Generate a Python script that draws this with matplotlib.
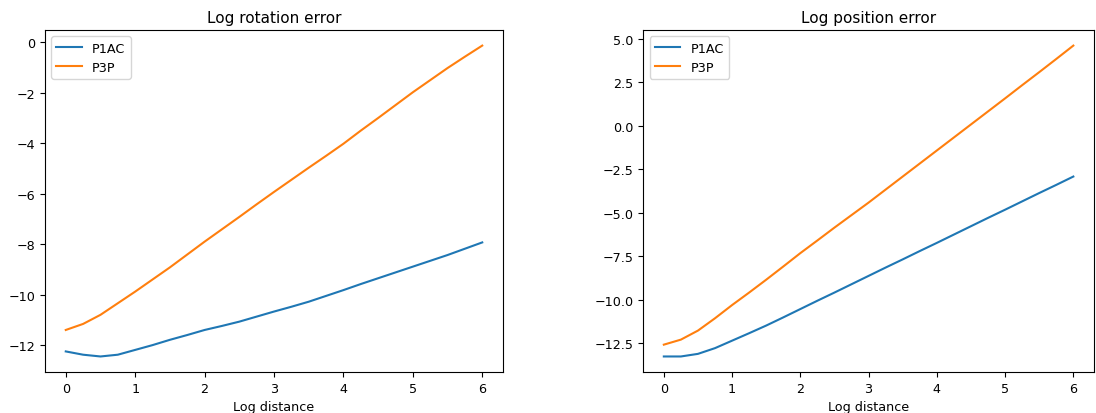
import numpy as np
import matplotlib
matplotlib.use("Agg")
import matplotlib.pyplot as plt

plt.rcParams['font.size'] = 9.2
plt.rcParams['axes.titlesize'] = 11

# log distance
x = np.arange(0, 6.01, 0.25)

# log rotation error
rot_p1ac = [-12.25, -12.38, -12.45, -12.38, -12.19, -12.0, -11.79, -11.6, -11.4,
            -11.24, -11.07, -10.87, -10.67, -10.48, -10.28, -10.05, -9.82, -9.58,
            -9.35, -9.12, -8.89, -8.66, -8.43, -8.18, -7.93]
rot_p3p = [-11.4, -11.16, -10.8, -10.34, -9.88, -9.4, -8.92, -8.41, -7.9,
           -7.41, -6.92, -6.42, -5.93, -5.45, -4.97, -4.5, -4.02, -3.5,
           -3.0, -2.49, -1.98, -1.5, -1.02, -0.57, -0.13]

# log position error
pos_p1ac = [-13.28, -13.28, -13.13, -12.8, -12.37, -11.94, -11.5, -11.03, -10.55,
            -10.07, -9.6, -9.12, -8.64, -8.16, -7.69, -7.21, -6.74, -6.26,
            -5.78, -5.3, -4.83, -4.35, -3.87, -3.4, -2.92]
pos_p3p = [-12.6, -12.31, -11.79, -11.08, -10.32, -9.6, -8.86, -8.1, -7.33,
           -6.6, -5.86, -5.14, -4.42, -3.67, -2.92, -2.17, -1.42, -0.67,
           0.08, 0.83, 1.58, 2.34, 3.09, 3.85, 4.62]

fig = plt.figure(figsize=(10.96, 4.14), dpi=100)
ax1 = fig.add_axes([0.041, 0.099, 0.418, 0.826])
ax2 = fig.add_axes([0.587, 0.099, 0.411, 0.826])

ax1.plot(x, rot_p1ac, label="P1AC")
ax1.plot(x, rot_p3p, label="P3P")
ax1.set_title("Log rotation error")
ax1.set_xlabel("Log distance")
ax1.legend(loc="upper left")

ax2.plot(x, pos_p1ac, label="P1AC")
ax2.plot(x, pos_p3p, label="P3P")
ax2.set_title("Log position error")
ax2.set_xlabel("Log distance")
ax2.legend(loc="upper left")

fig.savefig("out.png", dpi=100)
